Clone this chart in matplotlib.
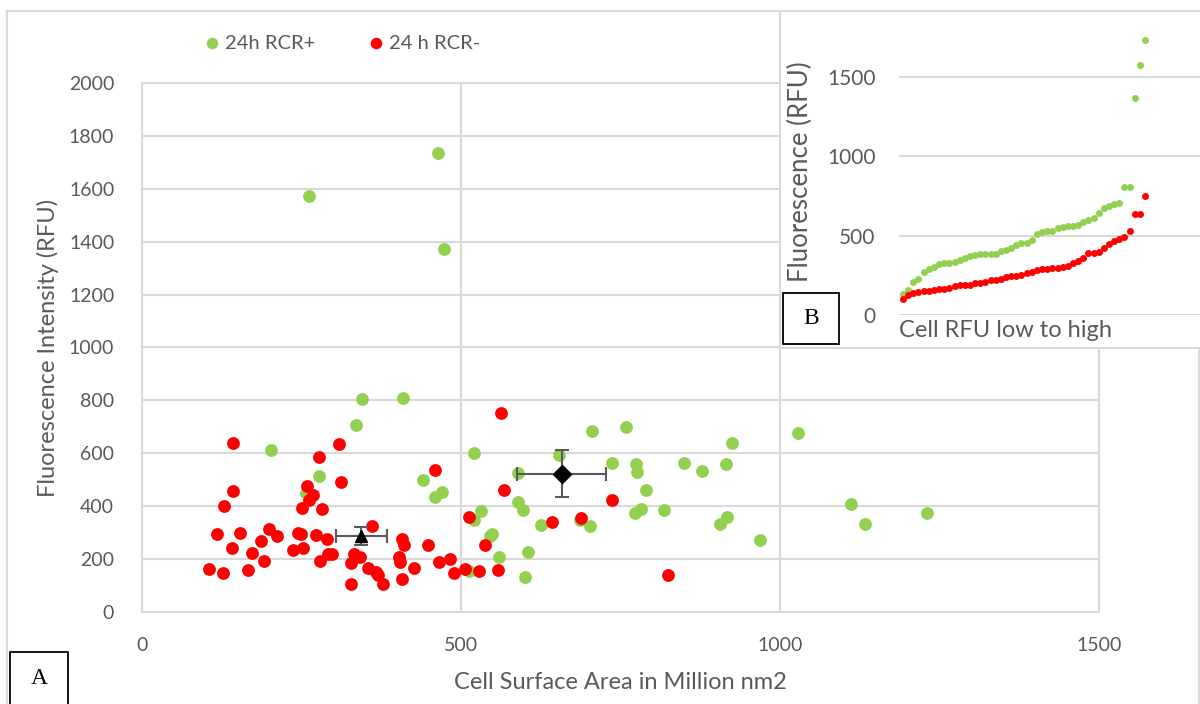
import matplotlib
matplotlib.use("Agg")
import matplotlib.pyplot as plt
from matplotlib.patches import Rectangle

plt.rcParams["font.family"] = ["Lato", "DejaVu Sans"]

GREEN = "#92D050"
RED = "#FF0000"
GRID = "#D9D9D9"
TXT = "#595959"

# Panel A: cell surface area (million nm2) vs fluorescence (RFU)
rcr_pos_area = [262, 464, 473, 345, 409, 336, 202, 277, 257, 441, 471, 459,
                520, 589, 654, 706, 759, 737, 775, 776, 790, 849, 878, 915,
                924, 818, 773, 782, 906, 917, 969, 589, 597, 531, 520, 548,
                545, 626, 686, 702, 559, 605, 600, 513, 1028, 1111, 1134, 1231]
rcr_pos_rfu = [1574, 1734, 1371, 804, 809, 707, 611, 515, 449, 499, 455, 434,
               602, 524, 592, 685, 698, 565, 558, 529, 460, 565, 534, 558,
               640, 384, 375, 388, 331, 360, 272, 415, 386, 383, 348, 296,
               286, 329, 348, 326, 209, 227, 133, 156, 676, 408, 333, 375]

rcr_neg_area = [143, 143, 128, 118, 154, 141, 105, 127, 166, 173,
                186, 192, 199, 211, 236, 244, 249, 253, 272, 290,
                279, 292, 298, 251, 259, 262, 268, 282, 277, 308,
                312, 360, 328, 328, 333, 342, 354, 366, 370, 378,
                407, 410, 403, 405, 408, 427, 449, 465, 482, 489,
                506, 460, 512, 562, 567, 643, 688, 736, 537, 528,
                558, 824]
rcr_neg_rfu = [638, 459, 400, 294, 299, 241, 163, 149, 160, 224,
               267, 192, 315, 289, 236, 300, 294, 243, 290, 277,
               194, 219, 219, 394, 476, 423, 441, 391, 587, 634,
               490, 324, 106, 186, 218, 209, 168, 152, 140, 106,
               276, 253, 207, 190, 125, 168, 253, 189, 202, 149,
               164, 536, 359, 752, 460, 340, 357, 423, 252, 155,
               160, 140]

# group means with error bars (RCR-, RCR+)
mean_area = [344, 658]
mean_rfu = [287, 523]
mean_area_err = [40, 70]
mean_rfu_err = [35, 90]
mean_markers = ["^", "D"]

# Panel B: cell RFU sorted low to high
inset_pos_rfu = [134, 159, 209, 230, 270, 291, 302, 325, 327, 331, 335, 348,
                 358, 375, 379, 383, 383, 383, 386, 404, 411, 425, 442,
                 453, 457, 474, 511, 522, 530, 532, 549, 557, 562, 562, 570,
                 589, 599, 610, 641, 673, 687, 698, 708, 805, 805, 1369, 1574, 1731]
inset_neg_rfu = [104, 126, 138, 148, 153, 155, 159, 164, 167, 170, 186, 191,
                 191, 193, 201, 205, 211, 220, 224, 226, 239, 245, 249, 253,
                 264, 274, 285, 291, 293, 296, 298, 302, 312, 327, 343, 360,
                 390, 394, 396, 421, 448, 465, 480, 492, 532, 635, 635, 750]

W, H = 1200, 704
fig = plt.figure(figsize=(12, 7.04), dpi=100)

# outer chart border
fig.patches.append(Rectangle((7 / W, -0.01), (W - 8) / W, 1 - 11 / H + 0.01,
                             transform=fig.transFigure, fill=False,
                             edgecolor=GRID, lw=1.5, zorder=-1))

ax = fig.add_axes([142 / W, 1 - 612 / H, 957 / W, 529 / H])
ax.set_xlim(0, 1500)
ax.set_ylim(0, 2000)
ax.set_xticks(range(0, 1501, 500))
ax.set_yticks(range(0, 2001, 200))
ax.grid(True, color=GRID, lw=1.5)
ax.set_axisbelow(True)
for sp in ax.spines.values():
    sp.set_color(GRID)
    sp.set_linewidth(1.5)
ax.tick_params(length=0, labelsize=14, labelcolor=TXT)
ax.tick_params(axis="y", pad=20)
ax.tick_params(axis="x", pad=18)

ax.scatter(rcr_pos_area, rcr_pos_rfu, s=85, color=GREEN, lw=0,
           label="24h RCR+", zorder=3)
ax.scatter(rcr_neg_area, rcr_neg_rfu, s=85, color=RED, lw=0,
           label="24 h RCR-", zorder=3)
for i in range(len(mean_area)):
    ax.errorbar(mean_area[i], mean_rfu[i], xerr=mean_area_err[i],
                yerr=mean_rfu_err[i], fmt=mean_markers[i], color="black",
                ms=9, ecolor=TXT, elinewidth=1.5, capsize=5, capthick=1.5,
                zorder=5)

ax.set_xlabel("Cell Surface Area in Million nm2", fontsize=17, color=TXT)
ax.xaxis.set_label_coords(0.5, -0.113)
ax.set_ylabel("Fluorescence Intensity (RFU)", fontsize=17, color=TXT)
ax.yaxis.set_label_coords(-0.087, 0.5)
ax.legend(loc="center", bbox_to_anchor=(336 / W, 1 - 43 / H),
          bbox_transform=fig.transFigure, ncol=2, frameon=False,
          fontsize=14.5, labelcolor=TXT, markerscale=0.9,
          handletextpad=-0.35, columnspacing=2.0)

# inset background box
bg = fig.add_axes([780 / W, 1 - 348 / H, 430 / W, 336 / H], zorder=3)
bg.set_facecolor("white")
bg.set_xticks([])
bg.set_yticks([])
for side in ("top", "right"):
    bg.spines[side].set_visible(False)
for side in ("left", "bottom"):
    bg.spines[side].set_color(GRID)
    bg.spines[side].set_linewidth(1.5)

ax2 = fig.add_axes([899 / W, 1 - 315.3 / H, 311 / W, 286.3 / H], zorder=4)
ax2.set_facecolor("none")
ax2.set_xlim(0.22, 60.6)
ax2.set_ylim(0, 1800)
ax2.set_yticks([0, 500, 1000, 1500])
ax2.set_xticks([])
ax2.grid(True, axis="y", color=GRID, lw=1.5)
ax2.set_axisbelow(True)
for sp in ax2.spines.values():
    sp.set_visible(False)
ax2.tick_params(length=0, labelsize=15, labelcolor=TXT, pad=17)
ax2.scatter(range(1, len(inset_pos_rfu) + 1), inset_pos_rfu, s=25,
            color=GREEN, lw=0, zorder=3)
ax2.scatter(range(1, len(inset_neg_rfu) + 1), inset_neg_rfu, s=25,
            color=RED, lw=0, zorder=3)
ax2.set_xlabel("Cell RFU low to high", fontsize=17, color=TXT, loc="left")
ax2.xaxis.set_label_coords(0.0, -0.015)
ax2.xaxis.label.set_horizontalalignment("left")
ax2.set_ylabel("Fluorescence (RFU)", fontsize=18.5, color=TXT)
ax2.yaxis.set_label_coords(-0.275, 0.5)

# panel letters
for x0, y0, w, h, letter in [(10, 652, 58, 60, "A"), (783, 293, 56, 51, "B")]:
    fig.patches.append(Rectangle((x0 / W, 1 - (y0 + h) / H), w / W, h / H,
                                 transform=fig.transFigure, facecolor="white",
                                 edgecolor="black", lw=1.3, zorder=6))
    fig.text((x0 + w / 2) / W, 1 - (y0 + min(h, 52) / 2) / H, letter,
             family="Liberation Serif", fontsize=17, ha="center",
             va="center", zorder=7)

fig.savefig("out.png", dpi=100)
